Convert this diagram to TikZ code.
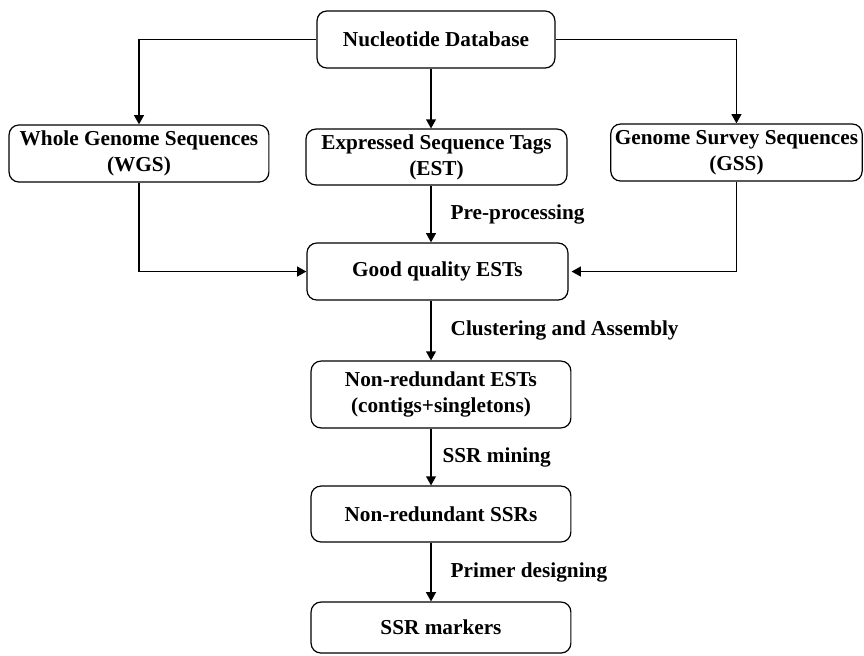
\documentclass[tikz,border=0pt]{standalone}
\usepackage{fontspec}
\setmainfont{Liberation Serif}
\usetikzlibrary{arrows.meta,positioning}

\begin{document}
\begin{tikzpicture}[
  box/.style={draw,rounded corners=1.7mm,line width=0.6pt,align=center,inner sep=2pt,
    minimum width=4.5cm,minimum height=0.99cm,font=\fontsize{10.5}{12.8}\selectfont\bfseries},
  flow/.style={line width=0.8pt,-{Triangle[length=1.6mm,width=1.7mm]}},
  steplabel/.style={font=\fontsize{10.5}{12.8}\selectfont\bfseries}]
\useasboundingbox (0,0) rectangle (15,11.372);
\coordinate (spine) at (7.483,0);
\node[box,minimum width=4.13cm] (db) at (7.569,10.686) {Nucleotide Database};
\node[box,minimum width=4.51cm] (wgs) at (2.413,8.707) {Whole Genome Sequences\\(WGS)};
\node[box,minimum width=4.53cm,minimum height=0.97cm] (est) at (7.578,8.646) {Expressed Sequence Tags\\(EST)};
\node[box,minimum width=4.36cm] (gss) at (12.786,8.724) {Genome Survey Sequences\\(GSS)};
\node[box,minimum width=4.53cm] (good) at (7.595,6.658) {Good quality ESTs};
\node[box,minimum width=4.51cm,minimum height=1.16cm] (nrest) at (7.656,4.523) {Non-redundant ESTs\\(contigs+singletons)};
\node[box,minimum width=4.51cm,minimum height=0.97cm] (nrssr) at (7.656,2.448) {Non-redundant SSRs};
\node[box,minimum width=4.51cm,minimum height=0.885cm] (marker) at (7.656,0.477) {SSR markers};
\draw[flow] (db.west) -| (wgs.north);
\draw[flow] (db.east) -| (gss.north);
\draw[flow] (db.south -| spine) -- (est.north -| spine);
\draw[flow] (wgs.south) |- (good.west);
\draw[flow,shorten >=1.5pt] (gss.south) |- (good.east);
\draw[flow] (est.south -| spine) -- (good.north -| spine) node[midway,right=0.21cm,steplabel] {Pre-processing};
\draw[flow] (good.south -| spine) -- (nrest.north -| spine) node[midway,right=0.21cm,steplabel] {Clustering and Assembly};
\draw[flow] (nrest.south -| spine) -- (nrssr.north -| spine) node[midway,right=0.07cm,steplabel] {SSR mining};
\draw[flow] (nrssr.south -| spine) -- (marker.north -| spine) node[midway,right=0.21cm,steplabel] {Primer designing};
\end{tikzpicture}
\end{document}
